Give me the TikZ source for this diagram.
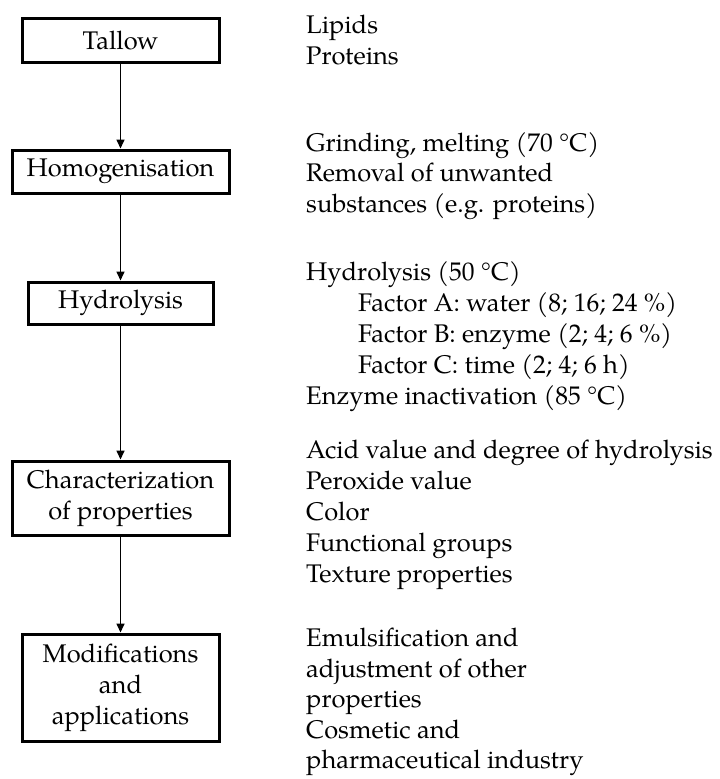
\documentclass[tikz,border=0pt]{standalone}
\usepackage{fontspec}
\setmainfont{TeX Gyre Pagella}
\usetikzlibrary{arrows.meta}
\begin{document}
\begin{tikzpicture}[x=1pt,y=-1pt,
  font=\fontsize{25.5}{31}\selectfont,
  stepbox/.style={draw=black,line width=3pt,inner sep=0pt,align=center},
  arr/.style={line width=1.6pt,-{Triangle[length=9pt,width=8pt]}},
  rtext/.style={anchor=base west,inner sep=0pt}]
\useasboundingbox[fill=white] (0,0) rectangle (720,779);
% boxes
\node[stepbox,minimum width=197pt,minimum height=44pt] (tallow) at (120.5,40) {Tallow};
\node[stepbox,minimum width=217pt,minimum height=43pt] (homog) at (120.5,171.5) {Homogenisation};
\node[stepbox,minimum width=185pt,minimum height=42pt] (hydro) at (120.5,303) {Hydrolysis};
\node[stepbox,minimum width=217pt,minimum height=74pt] (charac) at (120.5,498) {Characterization\\of properties};
\node[stepbox,minimum width=197pt,minimum height=107pt] (modif) at (120.5,687.5) {Modifications\\and\\applications};
% arrows
\draw[arr] (tallow) -- (homog);
\draw[arr] (homog) -- (hydro);
\draw[arr] (hydro) -- (charac);
\draw[arr] (charac) -- (modif);
% right texts
\node[rtext] (t1) at (306,33) {Lipids};
\node[rtext] (t2) at (306,64) {Proteins};
\node[rtext] (h1) at (306,151) {Grinding, melting (70 °C)};
\node[rtext] (h2) at (306,181) {Removal of unwanted};
\node[rtext] (h3) at (306,212) {substances (e.g. proteins)};
\node[rtext] (y1) at (306,280) {Hydrolysis (50 °C)};
\node[rtext] (y2) at (358,311) {Factor A: water (8; 16; 24 \%)};
\node[rtext] (y3) at (358,342) {Factor B: enzyme (2; 4; 6 \%)};
\node[rtext] (y4) at (358,373) {Factor C: time (2; 4; 6 h)};
\node[rtext] (y5) at (306,404) {Enzyme inactivation (85 °C)};
\node[rtext] (c1) at (306,458) {Acid value and degree of hydrolysis};
\node[rtext] (c2) at (306,489) {Peroxide value};
\node[rtext] (c3) at (306,520) {Color};
\node[rtext] (c4) at (306,551) {Functional groups};
\node[rtext] (c5) at (306,582) {Texture properties};
\node[rtext] (m1) at (306,646) {Emulsification and};
\node[rtext] (m2) at (306,677) {adjustment of other};
\node[rtext] (m3) at (306,707) {properties};
\node[rtext] (m4) at (306,738) {Cosmetic and};
\node[rtext] (m5) at (306,768) {pharmaceutical industry};
\end{tikzpicture}
\end{document}
